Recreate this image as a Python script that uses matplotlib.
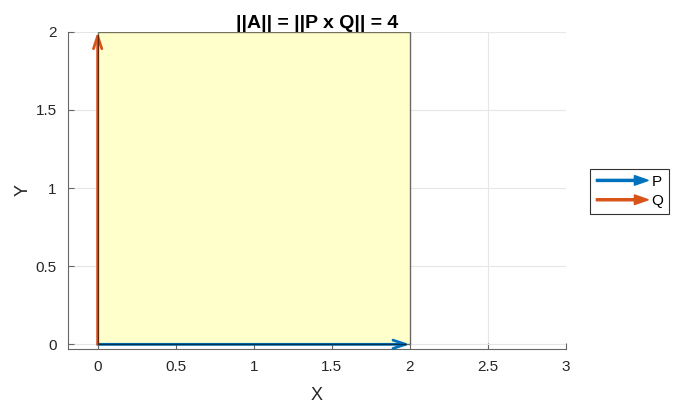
import matplotlib
matplotlib.use("Agg")
import matplotlib.pyplot as plt
import matplotlib.patches as mpatches
from matplotlib.legend_handler import HandlerPatch

plt.rcParams['font.family'] = ['Liberation Sans', 'DejaVu Sans']

# data
origin = [0, 0]
P = [2, 0]
Q = [0, 2]
labels = ["P", "Q"]
area = abs(P[0] * Q[1] - P[1] * Q[0])
xticks = [0, 0.5, 1, 1.5, 2, 2.5, 3]
yticks = [0, 0.5, 1, 1.5, 2]

blue = "#0072BD"
orange = "#D95319"

fig = plt.figure(figsize=(6.73, 4.03), dpi=100)
ax = fig.add_axes([0.101, 0.134, 0.740, 0.787])

# parallelogram spanned by P and Q
corners = [origin,
           [origin[0] + P[0], origin[1] + P[1]],
           [origin[0] + P[0] + Q[0], origin[1] + P[1] + Q[1]],
           [origin[0] + Q[0], origin[1] + Q[1]]]
ax.add_patch(mpatches.Polygon(corners, closed=True, facecolor="#FFFFCC",
                              edgecolor="none", zorder=1))

# vectors with open heads
for vec, col in zip([P, Q], [blue, orange]):
    ax.annotate("", xy=(origin[0] + vec[0], origin[1] + vec[1]), xytext=origin,
                arrowprops=dict(arrowstyle="->,head_length=0.9,head_width=0.3",
                                color=col, lw=2, shrinkA=0, shrinkB=0),
                zorder=3)

# black edge of the patch on top
ax.add_patch(mpatches.Polygon(corners, closed=True, facecolor="none",
                              edgecolor="black", lw=1, alpha=0.55, zorder=4))

ax.set_xlim(-0.19, 3)
ax.set_ylim(-0.03, 2)
ax.set_xticks(xticks)
ax.set_xticklabels([f"{t:g}" for t in xticks])
ax.set_yticks(yticks)
ax.set_yticklabels([f"{t:g}" for t in yticks])
ax.grid(True, color="#E6E6E6", lw=0.8)
ax.set_axisbelow(True)
for s in ["top", "right"]:
    ax.spines[s].set_visible(False)
for s in ["left", "bottom"]:
    ax.spines[s].set_color("#666666")
ax.tick_params(direction="in", length=4, color="#666666", labelsize=11,
               labelcolor="#262626", pad=8)
ax.set_xlabel("X", fontsize=13, color="#262626", labelpad=9)
ax.set_ylabel("Y", fontsize=13, color="#262626", labelpad=3)
ax.set_title(f"||A|| = ||P x Q|| = {area:g}", fontsize=14, fontweight="bold",
             pad=3)


def make_arrow(legend, orig_handle, xdescent, ydescent, width, height, fontsize):
    return mpatches.FancyArrow(0, height / 2, width, 0, width=1.5,
                               head_width=7, head_length=10,
                               length_includes_head=True,
                               color=orig_handle.get_facecolor())


handles = [mpatches.Patch(color=blue), mpatches.Patch(color=orange)]
leg = fig.legend(handles, labels, loc="center left",
                 bbox_to_anchor=(0.877, 0.525), fontsize=11,
                 handler_map={mpatches.Patch: HandlerPatch(patch_func=make_arrow)},
                 handlelength=3.4, handletextpad=0.2, borderpad=0.4,
                 borderaxespad=0, labelspacing=0.35, fancybox=False,
                 framealpha=1)
leg.get_frame().set_edgecolor("#333333")
leg.get_frame().set_linewidth(0.8)

fig.savefig("out.png", dpi=100)
